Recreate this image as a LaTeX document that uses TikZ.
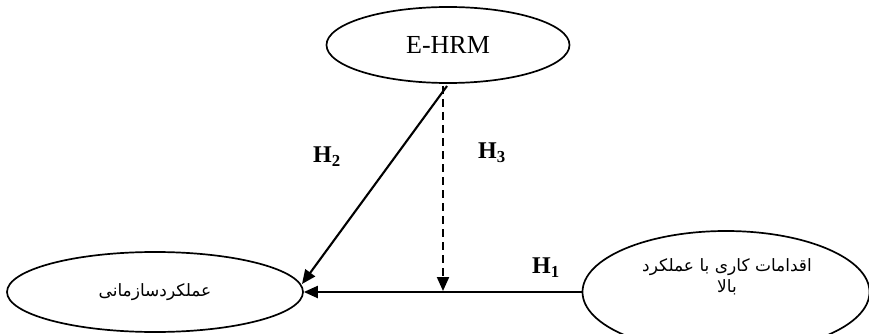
\documentclass[tikz,border=0pt]{standalone}
\usepackage{fontspec}
\setmainfont{Liberation Serif}
\newfontfamily\arabicfont[Script=Arabic]{DejaVu Sans}
\TeXXeTstate=1
\usetikzlibrary{shapes.geometric,arrows.meta}
\begin{document}
\begin{tikzpicture}[x=1pt,y=1pt,
  oval/.style={ellipse,draw,line width=1.7pt,inner sep=0pt},
  conn/.style={line width=2.1pt,-{Triangle[length=14pt,width=12pt]}},
  hlab/.style={font=\fontsize{24}{28}\selectfont\bfseries},
  fa/.style={font=\fontsize{17}{20}\selectfont\arabicfont,align=center}]
\useasboundingbox (0,0) rectangle (869,-334);
\node[oval,minimum width=243,minimum height=76,font=\fontsize{26}{30}\selectfont] (ehrm) at (448,-45) {E-HRM};
\node[oval,minimum width=296,minimum height=80,fa] (org) at (155,-292) {\beginR عملکردسازمانی\endR};
\node[oval,minimum width=287,minimum height=122] (hp) at (726,-292) {};
\node[fa] (hptext) at (727,-277) {\beginR اقدامات کاری با عملکرد\endR\\[1pt]\beginR بالا\endR};
\coordinate (s2) at (447,-86);
\coordinate (t2) at (302,-284);
\coordinate (s3) at (443,-86);
\coordinate (t3) at (443,-291);
\draw[conn] (s2) -- (t2);
\draw[conn,dash pattern=on 8pt off 5pt] (s3) -- (t3);
\draw[conn] (hp.west) -- (org.east);
\node[hlab] (h2) at (327,-157) {H\textsubscript{2}};
\node[hlab] (h3) at (492,-153) {H\textsubscript{3}};
\node[hlab] (h1) at (546,-268) {H\textsubscript{1}};
\end{tikzpicture}
\end{document}
